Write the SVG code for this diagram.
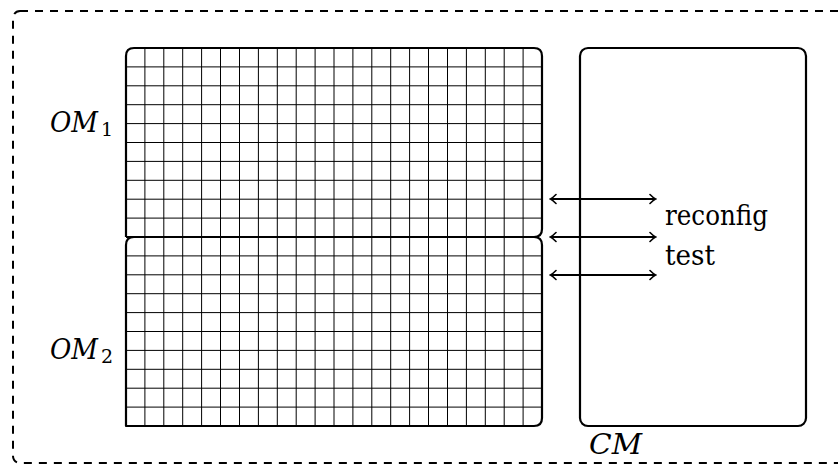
<svg xmlns="http://www.w3.org/2000/svg" width="838" height="464" viewBox="0 0 838 464">
  <style>
    .box { fill: none; stroke: #000; stroke-width: 2.2; stroke-linejoin: round; }
    .grid { stroke: #000; stroke-width: 1; fill: none; }
    .frame { fill: none; stroke: #000; stroke-width: 2; stroke-dasharray: 8 7; }
    .conn { stroke: #000; stroke-width: 1.8; fill: none; marker-start: url(#head); marker-end: url(#head); }
    text { font-family: "DejaVu Serif", serif; fill: #000; }
  </style>
  <defs>
    <marker id="head" viewBox="-6 -6 8 12" markerWidth="8" markerHeight="12" refX="0" refY="0" orient="auto-start-reverse" markerUnits="userSpaceOnUse">
      <path d="M -5 -4.5 Q -1.5 -1 0.5 0 Q -1.5 1 -5 4.5" fill="none" stroke="#000" stroke-width="1.6" stroke-linecap="round"/>
    </marker>
  </defs>

  <rect class="frame" x="13" y="11" width="900" height="452" rx="7" ry="7"/>

  <g id="grid">
    <path class="grid" d="M144.9 48V426M163.8 48V426M182.7 48V426M201.6 48V426M220.5 48V426M239.5 48V426M258.4 48V426M277.3 48V426M296.2 48V426M315.1 48V426M334 48V426M352.9 48V426M371.8 48V426M390.7 48V426M409.6 48V426M428.5 48V426M447.5 48V426M466.4 48V426M485.3 48V426M504.2 48V426M523.1 48V426"/>
    <path class="grid" d="M126 66.9H542M126 85.8H542M126 104.7H542M126 123.6H542M126 142.5H542M126 161.4H542M126 180.3H542M126 199.2H542M126 218.1H542M126 255.9H542M126 274.8H542M126 293.7H542M126 312.6H542M126 331.5H542M126 350.4H542M126 369.3H542M126 388.2H542M126 407.1H542"/>
  </g>

  <g id="OM1">
    <path class="box" d="M126 237V56Q126 48 134 48H534Q542 48 542 56V229Q542 237 534 237H126"/>
    <text font-size="27" font-style="italic" x="50" y="132" textLength="48" lengthAdjust="spacingAndGlyphs">OM</text>
    <text font-size="19" x="101" y="136">1</text>
  </g>

  <g id="OM2">
    <path class="box" d="M126 426V245Q126 237 134 237H534Q542 237 542 245V418Q542 426 534 426Z"/>
    <text font-size="27" font-style="italic" x="50" y="359" textLength="48" lengthAdjust="spacingAndGlyphs">OM</text>
    <text font-size="19" x="101" y="363">2</text>
  </g>

  <g id="CM">
    <rect class="box" x="580" y="48" width="226" height="378" rx="8" ry="8"/>
    <text font-size="27" font-style="italic" x="589" y="454" textLength="53" lengthAdjust="spacingAndGlyphs">CM</text>
  </g>

  <g id="connectors">
    <line class="conn" x1="551" y1="199" x2="655" y2="199"/>
    <line class="conn" x1="551" y1="237" x2="655" y2="237"/>
    <line class="conn" x1="551" y1="275" x2="655" y2="275"/>
  </g>

  <g id="labels">
    <text font-size="27" x="665" y="225" textLength="103" lengthAdjust="spacingAndGlyphs">reconfig</text>
    <text font-size="27" x="665" y="265" textLength="50" lengthAdjust="spacingAndGlyphs">test</text>
  </g>
</svg>
